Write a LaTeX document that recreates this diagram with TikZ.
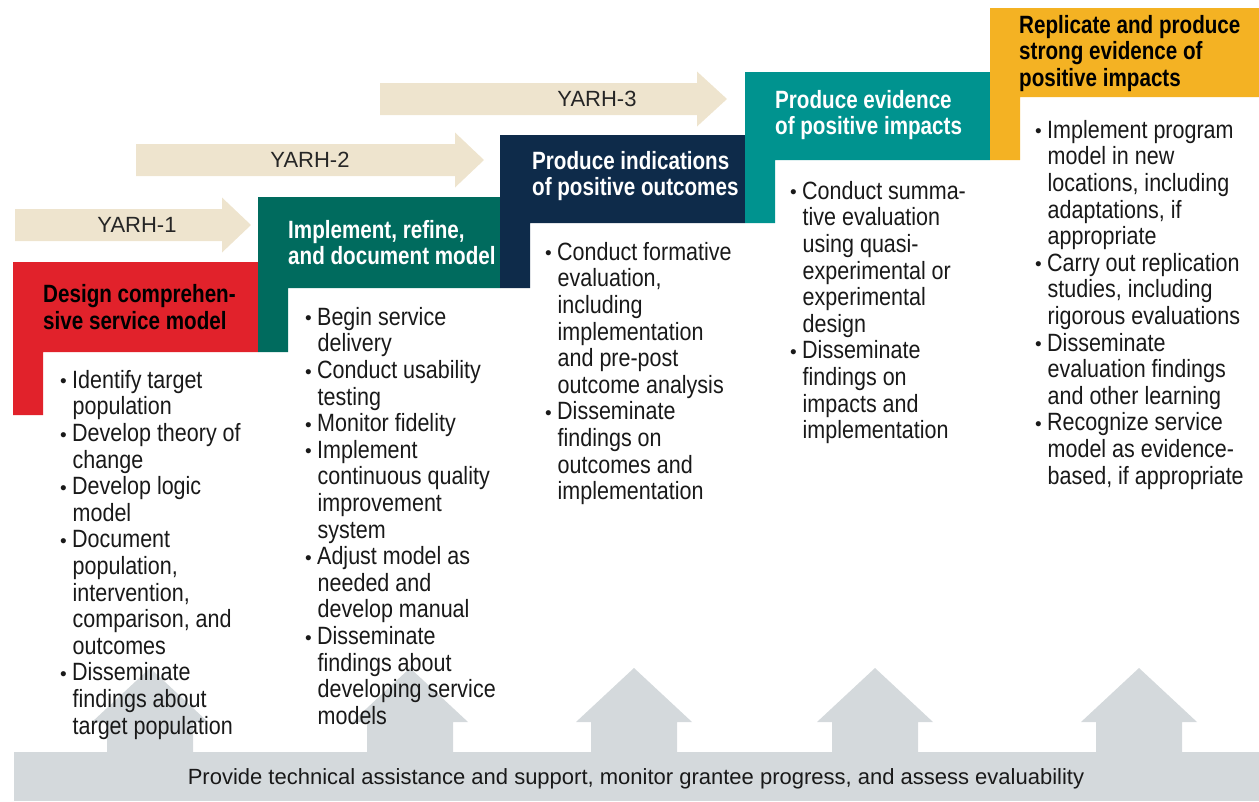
\documentclass[tikz,border=0pt]{standalone}
\usepackage{fontspec}
\setmainfont{Liberation Sans}
\newfontfamily\narrowfont{Liberation Sans}[FakeStretch=0.86]
\newfontfamily\narrowbold{Liberation Sans Bold}[FakeStretch=0.825]
\definecolor{stepred}{HTML}{E1222B}
\definecolor{stepgreen}{HTML}{006B5E}
\definecolor{stepnavy}{HTML}{0E2B4A}
\definecolor{stepteal}{HTML}{00938F}
\definecolor{stepgold}{HTML}{F4B223}
\definecolor{yarhbeige}{HTML}{EEE4CE}
\definecolor{supportgrey}{HTML}{D4D9DC}
\def\stair[#1](#2,#3,#4,#5,#6){\fill[#1] (#2,#3) -- (#4,#3) -- (#4,#5) -- (#2+30,#5) -- (#2+30,#6) -- (#2,#6) -- cycle;}
\def\yarh(#1,#2,#3,#4){\fill[yarhbeige] (#1,#4-16) -- (#2,#4-16) -- (#2,#4-27.5) -- (#3,#4) -- (#2,#4+27.5) -- (#2,#4+16) -- (#1,#4+16) -- cycle;}
\newcommand\bul{\makebox[12pt][l]{\raisebox{0.5pt}{\normalfont\fontsize{19}{19}\selectfont\textbullet}}}
\newcommand\ind{\hspace*{12.5pt}}
\tikzset{
  header/.style={anchor=west, inner sep=0pt, align=left, font=\narrowbold\fontsize{25}{26.8}\selectfont},
  itemlist/.style={anchor=north west, inner sep=0pt, align=left, text=black!90, font=\narrowfont\fontsize{25}{26.6}\selectfont},
  yarhlabel/.style={inner sep=0pt, text=black!85, font=\fontsize{22}{24}\selectfont}
}
\begin{document}
\begin{tikzpicture}[x=1pt,y=-1pt]
				%%%%% START %%%%%
				\useasboundingbox (0,0) rectangle (1259,801);
				\def\barup{752}
				\def\headbase{722}
				\def\tipup{668}
				
				% support bar and up arrows
				\fill[supportgrey] (14,\barup) rectangle (1259,801);
				\foreach \c in {150,410,634,875,1139}
					\fill[supportgrey] (\c-43,\barup) -- (\c-43,\headbase) -- (\c-58,\headbase) -- (\c,\tipup) -- (\c+58,\headbase) -- (\c+43,\headbase) -- (\c+43,\barup) -- cycle;
				\node[yarhlabel, text=black!90] (lsupport) at (636,779) {Provide technical assistance and support, monitor grantee progress, and assess evaluability};
				
				% steps
				\stair[stepred](13,262,258,352,415)
				\stair[stepgreen](258,197,500,288,352)
				\stair[stepnavy](500,135,745,223,288)
				\stair[stepteal](745,72,990,160,223)
				\stair[stepgold](990,8,1259,97,160)
				
				% YARH arrows
				\yarh(15,222,251,225)
				\yarh(136,455,484,160)
				\yarh(380,697,727,99)
				\node[yarhlabel] (lyarh1) at (137,225) {YARH-1};
				\node[yarhlabel] (lyarh2) at (310,160) {YARH-2};
				\node[yarhlabel] (lyarh3) at (597,99) {YARH-3};
				
				% headers
				\node[header, text=black] (hdesign) at (43,307) {Design comprehen-\\sive service model};
				\node[header, text=white] (himplement) at (288,242.5) {Implement, refine,\\and document model};
				\node[header, text=white] (hindications) at (532,176) {Produce indications\\of positive outcomes};
				\node[header, text=white] (hevidence) at (775,115) {Produce evidence\\of positive impacts};
				\node[header, text=black] (hreplicate) at (1019,53.5) {Replicate and produce\\strong evidence of\\positive impacts};
				
				% lists
				\node[itemlist] (ldesign) at (60,370) {\bul Identify target\\ \ind population\\ \bul Develop theory of\\ \ind change\\ \bul Develop logic\\ \ind model\\ \bul Document\\ \ind population,\\ \ind intervention,\\ \ind comparison, and\\ \ind outcomes\\ \bul Disseminate\\ \ind findings about\\ \ind target population};
				\node[itemlist] (limplement) at (305,307) {\bul Begin service\\ \ind delivery\\ \bul Conduct usability\\ \ind testing\\ \bul Monitor fidelity\\ \bul Implement\\ \ind continuous quality\\ \ind improvement\\ \ind system\\ \bul Adjust model as\\ \ind needed and\\ \ind develop manual\\ \bul Disseminate\\ \ind findings about\\ \ind developing service\\ \ind models};
				\node[itemlist] (lindications) at (545,242) {\bul Conduct formative\\ \ind evaluation,\\ \ind including\\ \ind implementation\\ \ind and pre-post\\ \ind outcome analysis\\ \bul Disseminate\\ \ind findings on\\ \ind outcomes and\\ \ind implementation};
				\node[itemlist] (levidence) at (790,181) {\bul Conduct summa-\\ \ind tive evaluation\\ \ind using quasi-\\ \ind experimental or\\ \ind experimental\\ \ind design\\ \bul Disseminate\\ \ind findings on\\ \ind impacts and\\ \ind implementation};
				\node[itemlist] (lreplicate) at (1035,120) {\bul Implement program\\ \ind model in new\\ \ind locations, including\\ \ind adaptations, if\\ \ind appropriate\\ \bul Carry out replication\\ \ind studies, including\\ \ind rigorous evaluations\\ \bul Disseminate\\ \ind evaluation findings\\ \ind and other learning\\ \bul Recognize service\\ \ind model as evidence-\\ \ind based, if appropriate};
				%%%%% END %%%%%
\end{tikzpicture}
\end{document}
